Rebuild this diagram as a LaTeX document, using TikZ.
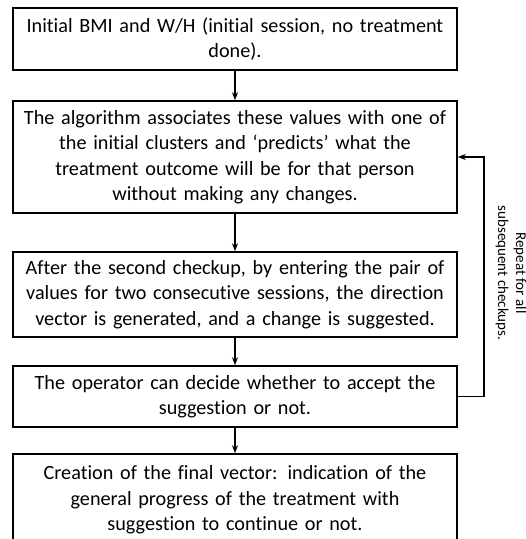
\documentclass[tikz,border=0pt]{standalone}
\usepackage{fontspec}
\setmainfont{Carlito}[Ligatures=NoCommon]
\usetikzlibrary{arrows.meta}
\begin{document}
\begin{tikzpicture}[x=1pt,y=-1pt,
  stepbox/.style={draw=black, line width=1.6pt, minimum width=444pt, align=center,
    inner sep=0pt, text width=440pt, font=\fontsize{20.2}{25.5}\selectfont},
  flow/.style={-{Stealth[length=8pt,width=6pt]}, line width=1.1pt}]
\clip (0,0) rectangle (526,539);
\fill[white] (0,0) rectangle (526,539);
\node[stepbox, minimum height=62pt] (b1) at (235,39) {Initial BMI and W/H (initial session, no treatment\\done).};
\node[stepbox, minimum height=112pt] (b2) at (235,157) {The algorithm associates these values with one of\\the initial clusters and ‘predicts’ what the\\treatment outcome will be for that person\\without making any changes.};
\node[stepbox, minimum height=85pt] (b3) at (235,294.5) {After the second checkup, by entering the pair of\\values for two consecutive sessions, the direction\\vector is generated, and a change is suggested.};
\node[stepbox, minimum height=61pt] (b4) at (235,396.5) {The operator can decide whether to accept the\\suggestion or not.};
\node[stepbox, minimum height=92pt] (b5) at (235,500) {Creation of the final vector: indication of the\\general progress of the treatment with\\suggestion to continue or not.};
\coordinate (c1) at (484,396.5);
\coordinate (c2) at (484,157);
\draw[flow] (b1.south) -- (b2.north);
\draw[flow] (b2.south) -- (b3.north);
\draw[flow] (b3.south) -- (b4.north);
\draw[flow] (b4.south) -- (b5.north);
\draw[flow] (b4.east) -- (c1) -- (c2) -- (b2.east);
\node[rotate=-90, align=center, font=\fontsize{15}{18}\selectfont] (lbl) at (511,273) {Repeat for all\\subsequent checkups.};
\end{tikzpicture}
\end{document}
